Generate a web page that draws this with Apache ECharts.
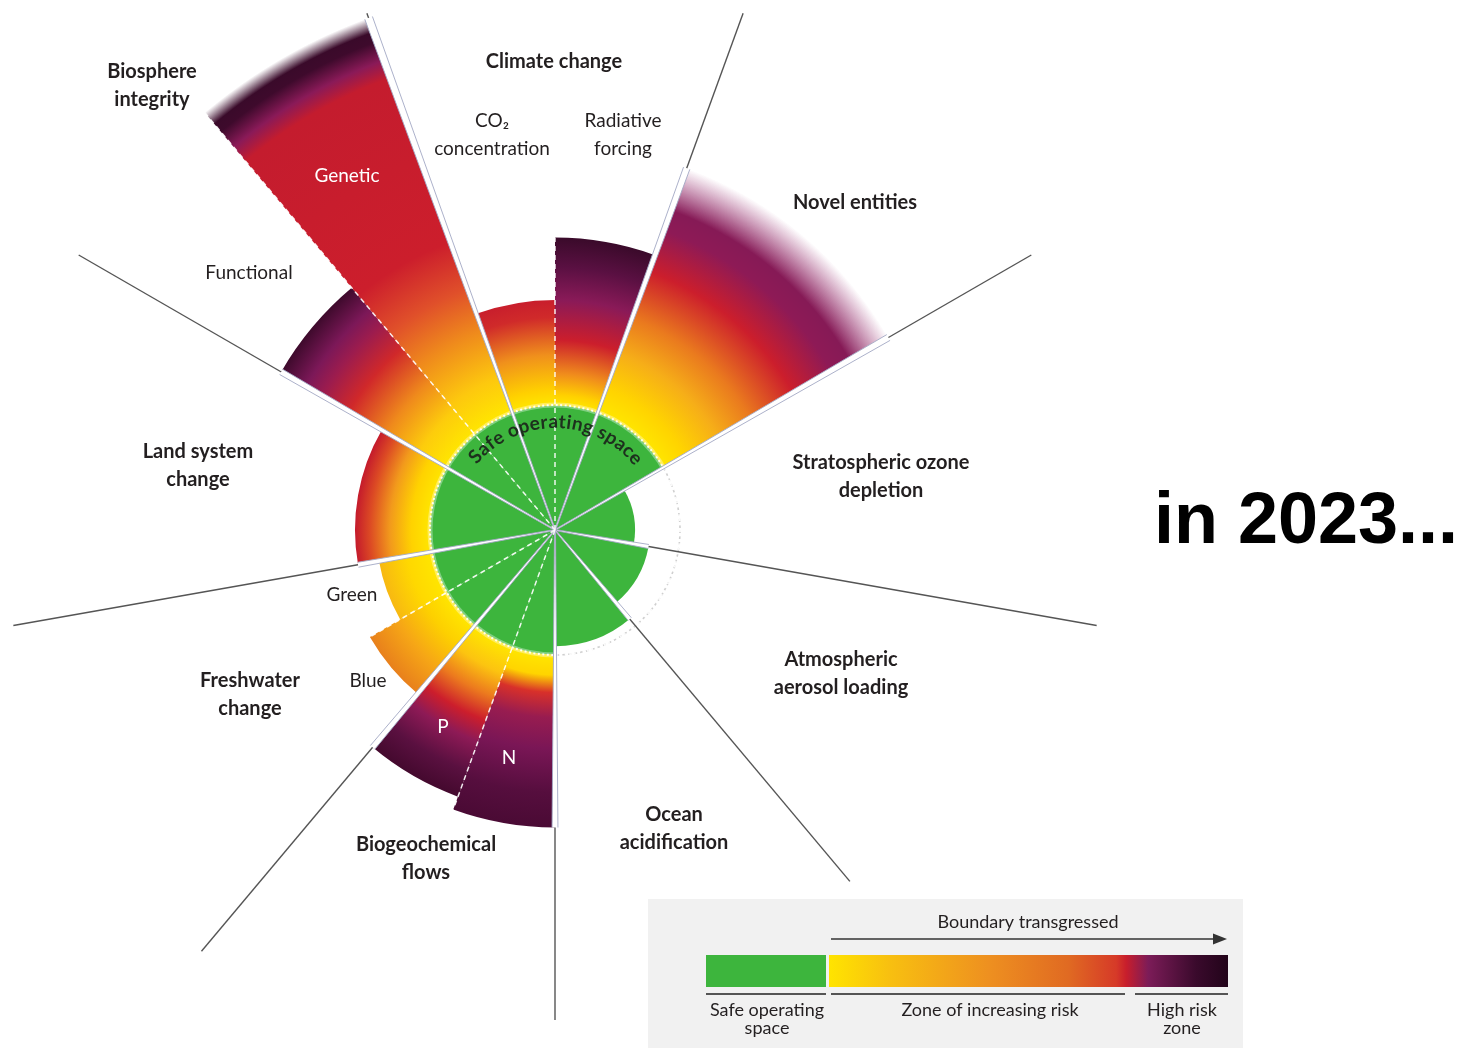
<!DOCTYPE html>
<html><head><meta charset="utf-8">
<script src="https://cdn.jsdelivr.net/npm/echarts@6/dist/echarts.min.js"></script>
<style>html,body{margin:0;padding:0;background:#fff}#c{width:1470px;height:1048px}</style>
</head><body><div id="c"></div>
<script>
// ---------- DATA (radius in units of the safe boundary = 1; angles in degrees, counter-clockwise from east)
const wedgeNames  = ['CO2 concentration','Radiative forcing','Novel entities','Stratospheric ozone depletion','Atmospheric aerosol loading','Ocean acidification','N','P','Blue','Green','Land system change','Functional','Genetic'];
const wedgeStart  = [90, 70, 30, -10, 310, 270, 250, 230, 210, 190, 150, 130, 110];
const wedgeEnd    = [110, 90, 70, 30, 350, 310, 270, 250, 230, 210, 190, 150, 130];
const wedgeValue  = [1.84, 2.34, 3.08, 0.64, 0.76, 0.93, 2.38, 2.27, 1.71, 1.43, 1.60, 2.53, 4.36];
const boundaryValue = 1;
const dividerAngles = [110, 70, 30, -10, 310, 270, 230, 190, 150];
const dividerLength = [4.4, 4.4, 4.4, 4.4, 3.67, 3.92, 4.4, 4.4, 4.4];
const subDividerAngles = [90, 130, 250, 210];
const safeLabel = 'Safe operating space';

// ---------- STYLE: colour ramps per wedge ([radius in boundary units, colour])
const Y = '#ffe600';
const ramps = [
  [[1,Y],[1.12,'#ffd000'],[1.4,'#f0901c'],[1.7,'#d02a2a'],[1.84,'#c81e2c']],
  [[1,Y],[1.08,'#ffd000'],[1.25,'#f08c1c'],[1.52,'#cc1e2c'],[1.84,'#8a1a58'],[2.1,'#5a1042'],[2.34,'#3a0a2a']],
  [[1,Y],[1.2,'#ffd400'],[1.5,'#f6ae18'],[1.8,'#ea7a1e'],[2.2,'#cc1e2c'],[2.55,'#8e1a56'],[2.72,'#861a56'],[3.08,'rgba(150,40,110,0)']],
  null, null, null,
  [[1,Y],[1.16,'#ffd400'],[1.3,'#d8302a'],[1.5,'#981c50'],[1.75,'#7a1656'],[2.1,'#560e3e'],[2.38,'#4a0a34']],
  [[1,Y],[1.22,'#fcc410'],[1.42,'#ec7a1e'],[1.62,'#cc1e2c'],[1.8,'#8e1a56'],[2.05,'#5a1040'],[2.27,'#44092e']],
  [[1,Y],[1.2,'#fdd000'],[1.45,'#f6a616'],[1.71,'#e8801c']],
  [[1,Y],[1.2,'#ffd800'],[1.43,'#f7b812']],
  [[1,Y],[1.15,'#ffd200'],[1.32,'#f29a1c'],[1.48,'#dc4a24'],[1.6,'#c41a2c']],
  [[1,Y],[1.25,'#fdcc0c'],[1.55,'#ef8a1c'],[1.9,'#d0282a'],[2.15,'#9c1c4e'],[2.3,'#7c1858'],[2.53,'#3e0a2c']],
  [[1,Y],[1.3,'#fdc80e'],[1.7,'#ef8a1c'],[2.05,'#e0502a'],[2.45,'#cc1e2c'],[3.85,'#c41c2e'],[4.0,'#8a1a58'],[4.16,'#3e0a2c'],[4.24,'#3a0a2a'],[4.36,'rgba(58,10,42,0)']]
];
const GREEN = '#3db53d';
const TXT = '#231f20';
const FONT = 'Lato';

// band length of each divider = tallest neighbouring wedge
const norm = a => ((a % 360) + 360) % 360;
function neighbourMax(a) {
  let m = 0;
  wedgeValue.forEach((v, i) => { if (norm(wedgeStart[i]) === norm(a) || norm(wedgeEnd[i]) === norm(a)) m = Math.max(m, v); });
  return m;
}
const bandLength = dividerAngles.map(neighbourMax);
const subLength = subDividerAngles.map(neighbourMax);

const chart = echarts.init(document.getElementById('c'));
const measureCtx = document.createElement('canvas').getContext('2d');

function geom(api, a) {
  const c = api.coord([0, a]);
  return {
    cx: c[0], cy: c[1],
    ang: t => { const p = api.coord([1, t]); return Math.atan2(p[1] - c[1], p[0] - c[0]); },
    rad: r => { const p = api.coord([r, a]); return Math.hypot(p[0] - c[0], p[1] - c[1]); }
  };
}

function renderWedge(params, api) {
  const i = params.dataIndex;
  const a0 = api.value(0), a1 = api.value(1), v = api.value(2);
  const g = geom(api, a0);
  let s = g.ang(a1), e = g.ang(a0);
  if (e <= s) e += 2 * Math.PI;
  const rv = g.rad(v), rb = g.rad(boundaryValue);
  const children = [{ type: 'sector', shape: { cx: g.cx, cy: g.cy, r0: 0, r: Math.min(rv, rb), startAngle: s, endAngle: e }, style: { fill: GREEN } }];
  if (v > boundaryValue && ramps[i]) {
    const stops = ramps[i].map(([r, col]) => ({ offset: Math.min(1, g.rad(r) / rv), color: col }));
    children.push({ type: 'sector', shape: { cx: g.cx, cy: g.cy, r0: rb - 0.5, r: rv, startAngle: s, endAngle: e },
      style: { fill: new echarts.graphic.RadialGradient(g.cx, g.cy, rv, stops, true) } });
  }
  return { type: 'group', children };
}

function circleRenderer(stroke, width, dash, glow) {
  return function (params, api) {
    const g = geom(api, 0);
    const r = g.rad(api.value(0));
    const ch = [];
    if (glow) ch.push({ type: 'circle', shape: { cx: g.cx, cy: g.cy, r }, style: { fill: 'none', stroke: 'rgba(255,255,255,0.35)', lineWidth: 5 } });
    ch.push({ type: 'circle', shape: { cx: g.cx, cy: g.cy, r }, style: { fill: 'none', stroke, lineWidth: width, lineDash: dash } });
    return { type: 'group', children: ch };
  };
}

function renderDivider(params, api) {
  const a = api.value(0), L = api.value(1), B = api.value(2);
  const c = api.coord([0, a]), pL = api.coord([L, a]), pB = api.coord([B, a]);
  const dx = pL[0] - c[0], dy = pL[1] - c[1], len = Math.hypot(dx, dy);
  const ux = dx / len, uy = dy / len, nx = -uy, ny = ux;
  const bp = Math.hypot(pB[0] - c[0], pB[1] - c[1]);
  const hw = 1.6 + bp * 0.0045;
  const A1 = [c[0] + nx * 0.5, c[1] + ny * 0.5], A2 = [pB[0] + nx * hw, pB[1] + ny * hw];
  const B1 = [c[0] - nx * 0.5, c[1] - ny * 0.5], B2 = [pB[0] - nx * hw, pB[1] - ny * hw];
  const side = { stroke: '#a3a8c4', lineWidth: 0.9 };
  return { type: 'group', children: [
    { type: 'line', shape: { x1: c[0], y1: c[1], x2: pL[0], y2: pL[1] }, style: { stroke: '#555', lineWidth: 1.4 } },
    { type: 'polygon', shape: { points: [A1, A2, B2, B1] }, style: { fill: '#ffffff' } },
    { type: 'line', shape: { x1: A1[0], y1: A1[1], x2: A2[0], y2: A2[1] }, style: side },
    { type: 'line', shape: { x1: B1[0], y1: B1[1], x2: B2[0], y2: B2[1] }, style: side }
  ] };
}

function renderSub(params, api) {
  const a = api.value(0), L = api.value(1);
  const c = api.coord([0, a]), p = api.coord([L, a]);
  return { type: 'line', shape: { x1: c[0], y1: c[1], x2: p[0], y2: p[1] }, style: { stroke: 'rgba(255,255,255,0.9)', lineWidth: 1.5, lineDash: [5, 4] } };
}

function renderArcText(params, api) {
  const rt = api.value(0), mid = api.value(1);
  const c = api.coord([0, mid]), p = api.coord([rt, mid]);
  const rPx = Math.hypot(p[0] - c[0], p[1] - c[1]);
  measureCtx.font = '700 19px ' + FONT;
  const chars = safeLabel.split('');
  const ws = chars.map(ch => measureCtx.measureText(ch).width + 0.8);
  const total = ws.reduce((x, y) => x + y, 0);
  const startDeg = mid + (total / 2) / rPx * 180 / Math.PI;
  let cum = 0;
  const children = chars.map((ch, k) => {
    const phi = startDeg - (cum + ws[k] / 2) / rPx * 180 / Math.PI;
    cum += ws[k];
    const q = api.coord([rt, phi]);
    return { type: 'text', x: q[0], y: q[1], rotation: (phi - 90) * Math.PI / 180,
      style: { text: ch, fontSize: 19, fontWeight: 700, fontFamily: FONT, fill: '#1d301d', align: 'center', verticalAlign: 'middle' } };
  });
  return { type: 'group', children };
}

function label(text, x, y, opts) {
  opts = opts || {};
  return { type: 'text', x, y, z: 100,
    style: { text, fontSize: opts.size || 20, fontWeight: opts.bold ? 700 : 400, fontFamily: opts.family || FONT,
      fill: opts.color || TXT, align: 'center', verticalAlign: 'middle', lineHeight: opts.lh || 28 } };
}

const legendGradient = new echarts.graphic.LinearGradient(0, 0, 1, 0, [
  { offset: 0, color: '#ffe400' }, { offset: 0.15, color: '#f8c010' }, { offset: 0.4, color: '#ee9020' },
  { offset: 0.6, color: '#e06a22' }, { offset: 0.72, color: '#d63a28' }, { offset: 0.745, color: '#c81e2c' },
  { offset: 0.8, color: '#7c1c58' }, { offset: 0.92, color: '#3a0a2c' }, { offset: 1, color: '#22041a' }
]);

const option = {
  animation: false,
  polar: { center: [555, 530], radius: [0, 550] },
  radiusAxis: { type: 'value', min: 0, max: 4.4, show: false, axisLine: { show: false }, axisTick: { show: false }, axisLabel: { show: false }, splitLine: { show: false } },
  angleAxis: { type: 'value', min: -10, max: 350, startAngle: -10, clockwise: false, show: false, axisLine: { show: false }, axisTick: { show: false }, axisLabel: { show: false }, splitLine: { show: false } },
  series: [
    { type: 'custom', name: 'boundary', coordinateSystem: 'polar', z: 1, silent: true, data: [[boundaryValue, 0]], encode: { radius: 0, angle: 1 },
      renderItem: circleRenderer('#b5b5b5', 1.6, [3, 3], false) },
    { type: 'custom', name: 'wedges', coordinateSystem: 'polar', z: 2, silent: true,
      data: wedgeValue.map((v, i) => [wedgeStart[i], wedgeEnd[i], v]), encode: { angle: 0, radius: 2 }, renderItem: renderWedge },
    { type: 'custom', name: 'boundaryEdge', coordinateSystem: 'polar', z: 3, silent: true, data: [[boundaryValue, 0]], encode: { radius: 0, angle: 1 },
      renderItem: circleRenderer('rgba(255,255,255,0.9)', 2, [2, 2.5], true) },
    { type: 'custom', name: 'dividers', coordinateSystem: 'polar', z: 4, silent: true,
      data: dividerAngles.map((a, i) => [a, dividerLength[i], bandLength[i]]), encode: { angle: 0, radius: 1 }, renderItem: renderDivider },
    { type: 'custom', name: 'subdividers', coordinateSystem: 'polar', z: 5, silent: true,
      data: subDividerAngles.map((a, i) => [a, subLength[i]]), encode: { angle: 0, radius: 1 }, renderItem: renderSub },
    { type: 'custom', name: 'safeLabel', coordinateSystem: 'polar', z: 6, silent: true,
      data: [[0.865, 89.5]], encode: { radius: 0, angle: 1 }, renderItem: renderArcText }
  ],
  graphic: [
    label('Biosphere\nintegrity', 152, 86, { bold: true }),
    label('Climate change', 554, 62, { bold: true }),
    label('CO₂\nconcentration', 492, 135, { size: 19 }),
    label('Radiative\nforcing', 623, 135, { size: 19 }),
    label('Novel entities', 855, 203, { bold: true }),
    label('Stratospheric ozone\ndepletion', 881, 477, { bold: true }),
    label('Atmospheric\naerosol loading', 841, 674, { bold: true }),
    label('Ocean\nacidification', 674, 829, { bold: true }),
    label('Biogeochemical\nflows', 426, 859, { bold: true }),
    label('Freshwater\nchange', 250, 695, { bold: true }),
    label('Land system\nchange', 198, 466, { bold: true }),
    label('Functional', 249, 273, { size: 19 }),
    label('Genetic', 347, 176, { size: 19, color: '#ffffff' }),
    label('Green', 352, 595, { size: 19 }),
    label('Blue', 368, 681, { size: 19 }),
    label('P', 443, 727, { size: 19, color: '#ffffff' }),
    label('N', 509, 758, { size: 19, color: '#ffffff' }),
    label('in 2023...', 1306, 523, { size: 72, bold: true, color: '#000000', family: '"Liberation Sans", Arial', lh: 80 }),
    // legend
    { type: 'rect', shape: { x: 648, y: 899, width: 595, height: 149 }, style: { fill: '#f1f1f1' }, z: 90 },
    { type: 'rect', shape: { x: 706, y: 955, width: 120, height: 32 }, style: { fill: GREEN }, z: 91 },
    { type: 'rect', shape: { x: 829, y: 955, width: 399, height: 32 }, style: { fill: legendGradient }, z: 91 },
    { type: 'line', shape: { x1: 831, y1: 939, x2: 1216, y2: 939 }, style: { stroke: '#333', lineWidth: 1.5 }, z: 91 },
    { type: 'polygon', shape: { points: [[1213, 933.5], [1227, 939], [1213, 944.5]] }, style: { fill: '#333' }, z: 91 },
    { type: 'line', shape: { x1: 706, y1: 994, x2: 826, y2: 994 }, style: { stroke: '#555', lineWidth: 2 }, z: 91 },
    { type: 'line', shape: { x1: 831, y1: 994, x2: 1125, y2: 994 }, style: { stroke: '#555', lineWidth: 2 }, z: 91 },
    { type: 'line', shape: { x1: 1135, y1: 994, x2: 1228, y2: 994 }, style: { stroke: '#555', lineWidth: 2 }, z: 91 },
    label('Boundary transgressed', 1028, 922, { size: 18 }),
    label('Safe operating\nspace', 767, 1019, { size: 18, lh: 18 }),
    label('Zone of increasing risk', 990, 1010, { size: 18 }),
    label('High risk\nzone', 1182, 1019, { size: 18, lh: 18 })
  ]
};
chart.setOption(option);
</script></body></html>
